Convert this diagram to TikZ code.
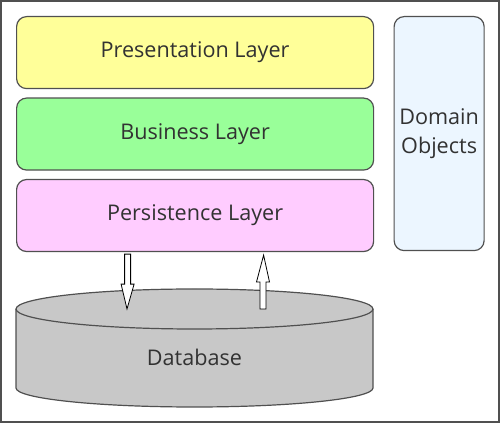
\documentclass[tikz,border=0pt]{standalone}
\usepackage{fontspec}
\setmainfont{Open Sans}
\usepackage{tikz}
\usetikzlibrary{positioning, calc}
\definecolor{presyellow}{RGB}{255,255,153}
\definecolor{busgreen}{RGB}{153,255,153}
\definecolor{perspink}{RGB}{255,204,255}
\definecolor{domblue}{RGB}{236,246,255}
\definecolor{dbgray}{RGB}{200,200,200}
\definecolor{edgegray}{RGB}{80,80,80}
\definecolor{textgray}{RGB}{50,50,50}
\tikzstyle{layer}=[%
      rectangle, rounded corners=7.5pt, draw=edgegray, line width=0.9pt, text=textgray,
      minimum width=267.75pt, minimum height=54pt, inner sep=0pt, font=\fontsize{16.2}{19}\selectfont
]
\tikzstyle{dombox}=[%
      rectangle, rounded corners=7.5pt, draw=edgegray, line width=0.9pt, fill=domblue, text=textgray,
      minimum width=67.5pt, minimum height=175.5pt, inner sep=0pt, align=center,
      font=\fontsize{16.2}{21.75}\selectfont
]
\tikzstyle{flow}=[%
      draw=black, fill=white, line width=0.6pt, line join=miter
]

\begin{document}
\begin{tikzpicture}[x=0.75pt, y={(0,-0.75pt)}]
    \useasboundingbox (0,0) rectangle (500,423);
    \draw[edgegray, line width=1.2pt] (0.8,0.8) rectangle (499.2,422.2);

    \node[layer, fill=presyellow, anchor=north west] (pres) at (16,16) {Presentation Layer};
    \node[layer, fill=busgreen, below=6.2pt of pres] (bus) {Business Layer};
    \node[layer, fill=perspink, below=6.2pt of bus] (pers) {Persistence Layer};
    \node[dombox, right=14.5pt of pres.north east, anchor=north west] (dom) {Domain\\Objects};

    % database cylinder
    \coordinate (dbtop) at (194.5,309);
    \filldraw[fill=dbgray, draw=edgegray, line width=0.9pt]
        (16,309) -- (16,388) arc[start angle=180, end angle=0, x radius=178.5, y radius=19]
        -- (373,309) arc[start angle=0, end angle=-180, x radius=178.5, y radius=20] -- cycle;
    \draw[edgegray, line width=0.9pt] (16,309) arc[start angle=180, end angle=0, x radius=178.5, y radius=20];
    \node[text=textgray, font=\fontsize{16.2}{19}\selectfont] (db) at (194.5,357) {Database};

    % read / write arrows
    \coordinate (dnTop) at ($(pers.south)+(-67.5,2)$);
    \coordinate (dnTip) at ($(dbtop)+(-67.5,0)$);
    \coordinate (upBase) at ($(dbtop)+(68.5,0)$);
    \coordinate (upTip) at ($(pers.south)+(68.5,3)$);
    \draw[flow] ($(dnTop)+(-3,0)$) -- ($(dnTop)+(-3,30)$) -- ($(dnTop)+(-6.5,30)$) -- (dnTip)
        -- ($(dnTop)+(6.5,30)$) -- ($(dnTop)+(3,30)$) -- ($(dnTop)+(3,0)$) -- cycle;
    \draw[flow] ($(upBase)+(-3,0)$) -- ($(upBase)+(-3,-27)$) -- ($(upBase)+(-6.5,-27)$) -- (upTip)
        -- ($(upBase)+(6.5,-27)$) -- ($(upBase)+(3,-27)$) -- ($(upBase)+(3,0)$) -- cycle;
\end{tikzpicture}
\end{document}
